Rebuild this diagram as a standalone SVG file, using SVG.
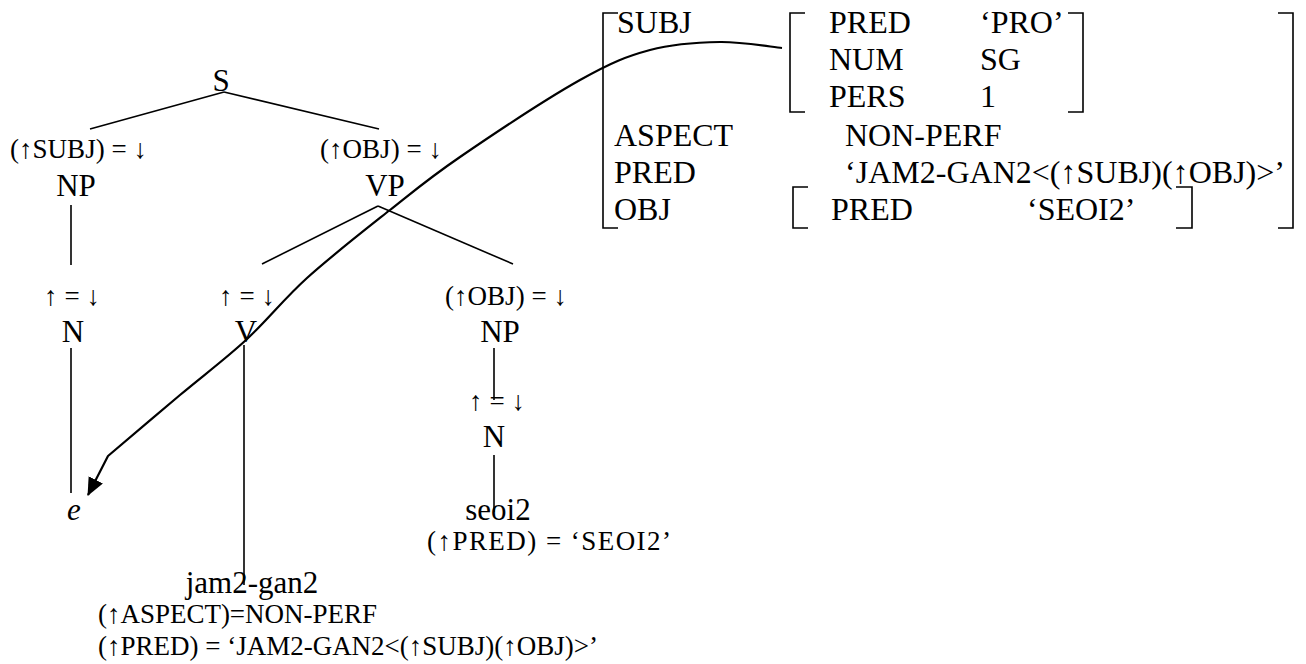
<svg xmlns="http://www.w3.org/2000/svg" width="1306" height="664" viewBox="0 0 1306 664">
<style>
text{font-family:"Liberation Serif","DejaVu Serif",serif;fill:#000}
.lbl{font-size:31px;text-anchor:middle}
.ann{font-size:27px}
.annc{font-size:27px;text-anchor:middle}
.avm{font-size:32px}
.e{font-style:italic}
.edge{stroke:#000;stroke-width:1.6;fill:none}
.brk{stroke:#000;stroke-width:1.6;fill:none}
.curve{stroke:#000;stroke-width:2.2;fill:none;stroke-linejoin:round}
</style>
<defs>
<marker id="arr" markerUnits="userSpaceOnUse" markerWidth="18" markerHeight="16" refX="17" refY="8" orient="auto">
<path d="M0,0 L18,8 L0,16 z" fill="#000"/>
</marker>
</defs>
<rect width="1306" height="664" fill="#fff"/>

<g id="connectors">
<path class="edge" d="M224,92 L90,129"/>
<path class="edge" d="M224,92 L379,129"/>
<path class="edge" d="M71,205 L71,265"/>
<path class="edge" d="M378,206 L262,264"/>
<path class="edge" d="M378,206 L513,264"/>
<path class="edge" d="M71,348 L71,493"/>
<path class="edge" d="M244,345 L244,585"/>
<path class="edge" d="M494,348 L494,400"/>
<path class="edge" d="M494,455 L494,512"/>
<path class="curve" marker-end="url(#arr)" d="M782,48 C771.7,47 742,41.7 720,42 C698,42.3 673.3,43.7 650,50 C626.7,56.3 611.7,62.2 580,80 C548.3,97.8 491.7,135.3 460,157 C428.3,178.7 415.5,189.8 390,210 C364.5,230.2 331,256.3 307,278 C283,299.7 267.2,320.5 246,340 C224.8,359.5 203,375.7 180,395 C157,414.3 120,445.8 108,456 L88,495"/>
</g>

<g id="node-S"><text class="lbl" x="221" y="91">S</text></g>
<g id="node-NP-subj">
<text class="ann" x="10" y="158" textLength="137" lengthAdjust="spacing">(↑SUBJ) = ↓</text>
<text class="lbl" x="76" y="196">NP</text>
</g>
<g id="node-VP">
<text class="ann" x="320" y="158" textLength="122" lengthAdjust="spacing">(↑OBJ) = ↓</text>
<text class="lbl" x="385" y="196">VP</text>
</g>
<g id="node-N-subj">
<text class="annc" x="72" y="305" textLength="56" lengthAdjust="spacing">↑ = ↓</text>
<text class="lbl" x="73" y="342">N</text>
</g>
<g id="node-e"><text class="lbl e" x="74" y="520">e</text></g>
<g id="node-V">
<text class="annc" x="247" y="305" textLength="56" lengthAdjust="spacing">↑ = ↓</text>
<text class="lbl" x="246" y="342">V</text>
</g>
<g id="node-jam2-gan2">
<text class="lbl" x="252" y="593">jam2-gan2</text>
<text class="ann" x="98" y="623" textLength="279" lengthAdjust="spacing">(↑ASPECT)=NON-PERF</text>
<text class="ann" x="98" y="655" textLength="500" lengthAdjust="spacing">(↑PRED) = ‘JAM2-GAN2&lt;(↑SUBJ)(↑OBJ)&gt;’</text>
</g>
<g id="node-NP-obj">
<text class="ann" x="445" y="305" textLength="122" lengthAdjust="spacing">(↑OBJ) = ↓</text>
<text class="lbl" x="500" y="342">NP</text>
</g>
<g id="node-N-obj">
<text class="annc" x="497" y="410" textLength="56" lengthAdjust="spacing">↑ = ↓</text>
<text class="lbl" x="494" y="447">N</text>
</g>
<g id="node-seoi2">
<text class="lbl" x="498" y="520">seoi2</text>
<text class="ann" x="427" y="550" textLength="244" lengthAdjust="spacing">(↑PRED) = ‘SEOI2’</text>
</g>

<g id="f-structure">
<path class="brk" d="M618,13 L603,13 L603,228 L618,228"/>
<path class="brk" d="M1278,13 L1293,13 L1293,228 L1278,228"/>
<text class="avm" x="617" y="33">SUBJ</text>
<path class="brk" d="M805,13 L790,13 L790,112 L805,112"/>
<path class="brk" d="M1068,13 L1083,13 L1083,112 L1068,112"/>
<text class="avm" x="829" y="33">PRED</text>
<text class="avm" x="980" y="33">‘PRO’</text>
<text class="avm" x="829" y="70">NUM</text>
<text class="avm" x="980" y="70">SG</text>
<text class="avm" x="829" y="107">PERS</text>
<text class="avm" x="980" y="107">1</text>
<text class="avm" x="614" y="146">ASPECT</text>
<text class="avm" x="845" y="146">NON-PERF</text>
<text class="avm" x="614" y="183">PRED</text>
<text class="avm" x="845" y="183" textLength="440" lengthAdjust="spacing">‘JAM2-GAN2&lt;(↑SUBJ)(↑OBJ)&gt;’</text>
<text class="avm" x="614" y="220">OBJ</text>
<path class="brk" d="M808,187 L793,187 L793,228 L808,228"/>
<path class="brk" d="M1176,187 L1192,187 L1192,228 L1176,228"/>
<text class="avm" x="831" y="220">PRED</text>
<text class="avm" x="1027" y="220">‘SEOI2’</text>
</g>
</svg>
